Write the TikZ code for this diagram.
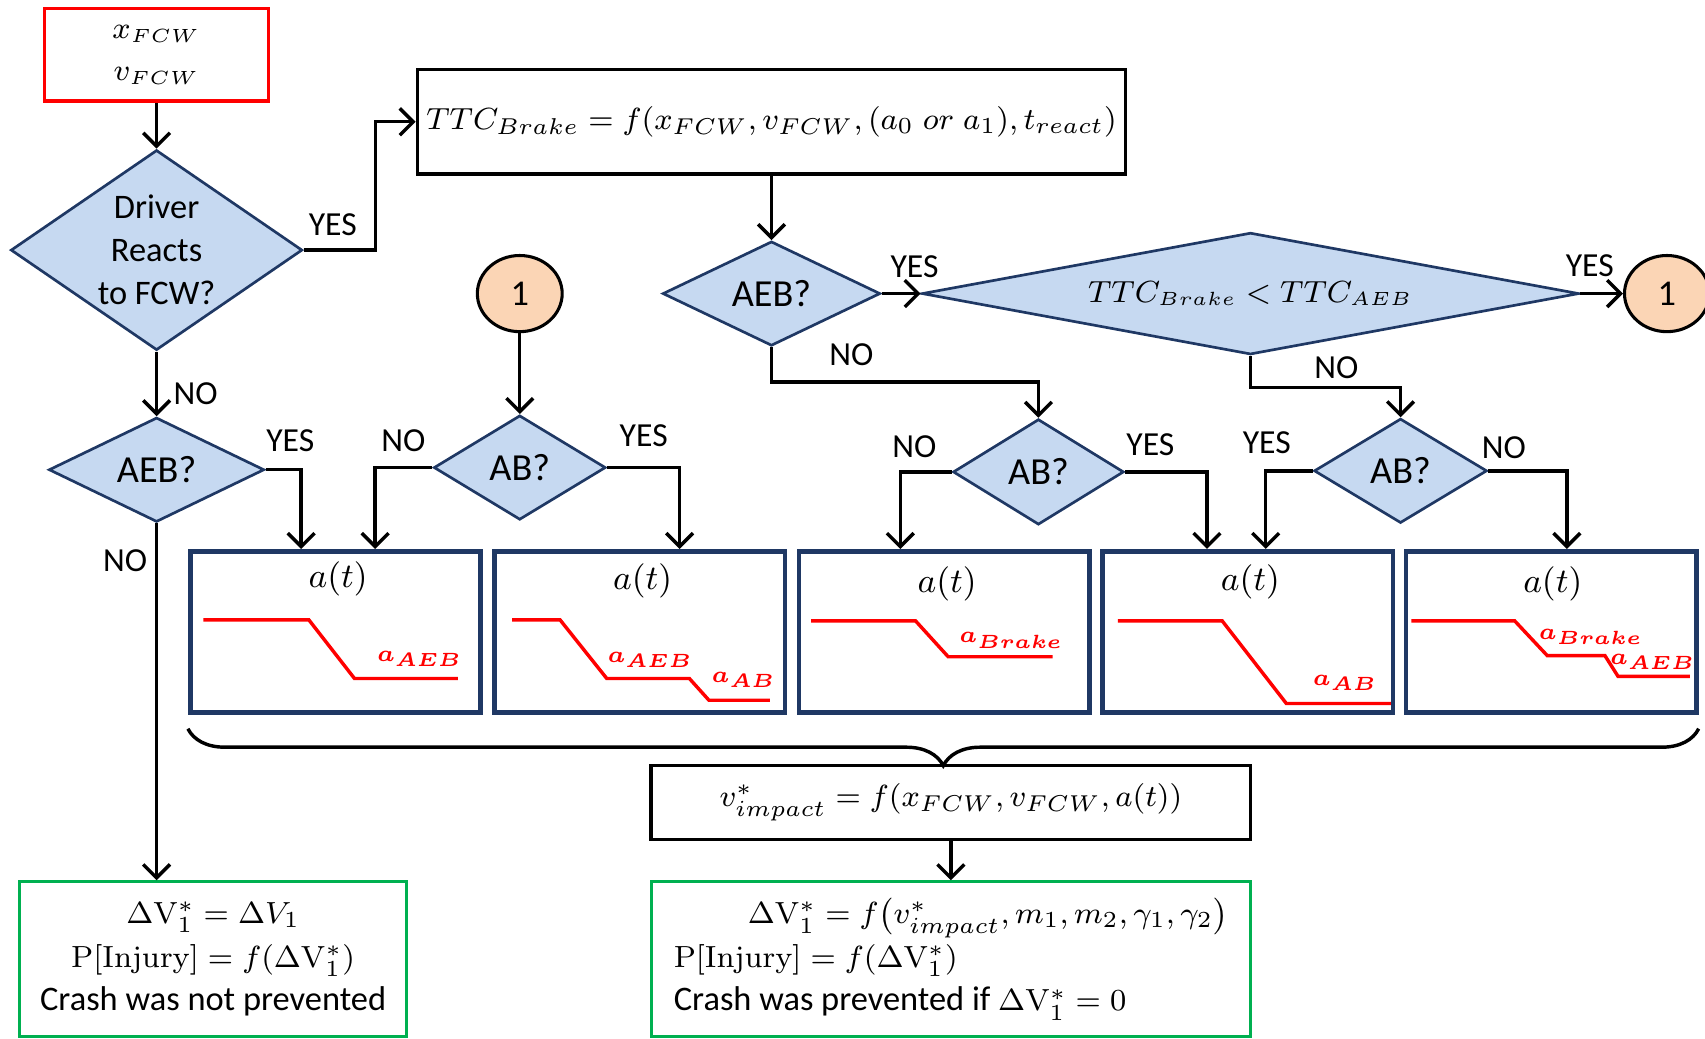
\documentclass[tikz,border=0pt]{standalone}
\usepackage[no-math]{fontspec}
\setmainfont{Carlito}
\usepackage{amsmath}
\usetikzlibrary{shapes.geometric,arrows.meta,decorations.pathreplacing}

\definecolor{decfill}{RGB}{198,217,241}
\definecolor{decline}{RGB}{31,56,100}
\definecolor{peach}{RGB}{251,213,181}
\definecolor{outgreen}{RGB}{0,176,80}

\tikzset{
    decision/.style={diamond, draw=decline, fill=decfill, line width=0.7pt, inner sep=0pt, align=center, font=\fontsize{9}{11.2}\selectfont},
    question/.style={decision, font=\fontsize{10}{12}\selectfont},
    procbox/.style={draw=black, line width=0.9pt, inner sep=0pt, font=\fontsize{8}{11}\selectfont},
    plotbox/.style={draw=decline, line width=1.2pt, minimum width=2.67cm, minimum height=1.48cm, inner sep=0pt},
    outbox/.style={draw=outgreen, line width=0.8pt, minimum height=1.42cm, inner sep=0pt, font=\fontsize{9}{11.4}\selectfont},
    connect/.style={ellipse, draw=black, fill=peach, line width=0.8pt, minimum width=0.78cm, minimum height=0.70cm, inner sep=0pt, font=\fontsize{9.5}{11}\selectfont},
    answer/.style={font=\fontsize{8.8}{10}\selectfont, inner sep=0pt},
    flow/.style={-{Straight Barb[length=3.5pt,width=7pt]}, line width=0.9pt},
    curve/.style={draw=red, line width=0.9pt},
    acclabel/.style={text=red, inner sep=0pt, font=\fontsize{6.2}{7}\selectfont\boldmath},
    tlabel/.style={inner sep=0pt, font=\fontsize{9.5}{11}\selectfont}
}
\newcommand{\mth}[1]{{\fontsize{8.5}{10.8}\selectfont$#1$}}

\begin{document}
\begin{tikzpicture}[x=0.01cm, y=-0.01cm]
    \useasboundingbox (0,0) rectangle (1568,955);

    % Inputs and first decision
    \node[procbox, draw=red, minimum width=2.06cm, minimum height=0.85cm, align=center, font=\fontsize{7.8}{10.8}\selectfont] (inp) at (144,50.5) {$x_{FCW}$\\$v_{FCW}$};
    \node[decision, minimum width=2.68cm, minimum height=1.84cm, aspect=1.46] (drv) at (144,230) {Driver\\Reacts\\to FCW?};

    % Braking time and the upper decisions
    \node[procbox, minimum width=6.51cm, minimum height=0.96cm] (ttc) at (709.5,112) {$TTC_{Brake} = f(x_{FCW}, v_{FCW}, (a_0 \; or \; a_1), t_{react})$};
    \node[question, minimum width=2cm, minimum height=0.96cm, aspect=2.08] (aeb2) at (709.5,270) {AEB?};
    \node[decision, minimum width=6.04cm, minimum height=1.12cm, aspect=5.4, font=\fontsize{7.8}{11}\selectfont] (ttcd) at (1150,270) {$TTC_{Brake} < TTC_{AEB}$};
    \node[connect] (con2) at (1533,270) {1};
    \node[connect] (con1) at (478,270) {1};

    % Lower decisions
    \node[question, minimum width=1.98cm, minimum height=0.96cm, aspect=2.06] (aeb1) at (144,432) {AEB?};
    \node[question, minimum width=1.58cm, minimum height=0.96cm, aspect=1.65] (ab1) at (478,430) {AB?};
    \node[question, minimum width=1.57cm, minimum height=0.97cm, aspect=1.62] (ab2) at (955,434) {AB?};
    \node[question, minimum width=1.59cm, minimum height=0.96cm, aspect=1.65] (ab3) at (1288,433) {AB?};

    % Deceleration profiles
    \node[plotbox] (box1) at (308.5,581) {};
    \node[plotbox] (box2) at (588.5,581) {};
    \node[plotbox] (box3) at (868.5,581) {};
    \node[plotbox] (box4) at (1147.5,581) {};
    \node[plotbox] (box5) at (1426.5,581) {};
    \node[tlabel] (at1) at (311,532) {$a(t)$};
    \node[tlabel] (at2) at (591,534) {$a(t)$};
    \node[tlabel] (at3) at (871,537) {$a(t)$};
    \node[tlabel] (at4) at (1150,535) {$a(t)$};
    \node[tlabel] (at5) at (1428,537) {$a(t)$};

    \draw[curve] (187,570) -- (284,570) -- (326,624) -- (421,624);
    \draw[curve] (471,570) -- (515,570) -- (558,624) -- (634,624) -- (652,644) -- (708,644);
    \draw[curve] (746,571) -- (842,571) -- (872,604) -- (968,604);
    \draw[curve] (1028,571) -- (1124,571) -- (1183,647) -- (1279,647);
    \draw[curve] (1298,571) -- (1393,571) -- (1423,603) -- (1476,603) -- (1488,622) -- (1554,622);

    \node[acclabel] (acc1) at (386,606) {$a_{AEB}$};
    \node[acclabel] (acc2a) at (598,607) {$a_{AEB}$};
    \node[acclabel] (acc2b) at (684,625) {$a_{AB}$};
    \node[acclabel] (acc3) at (930,589) {$a_{Brake}$};
    \node[acclabel] (acc4) at (1237,628) {$a_{AB}$};
    \node[acclabel] (acc5a) at (1463,586) {$a_{Brake}$};
    \node[acclabel] (acc5b) at (1520,609) {$a_{AEB}$};

    % Impact speed and outcomes
    \draw[decorate, decoration={brace, amplitude=0.34cm}, line width=0.9pt] ([yshift=-0.13cm]box5.south east) -- ([yshift=-0.13cm]box1.south west);
    \node[procbox, minimum width=5.51cm, minimum height=0.68cm, font=\fontsize{8.4}{11}\selectfont] (imp) at (874.5,738) {$v^*_{impact} = f(x_{FCW}, v_{FCW}, a(t))$};
    \node[outbox, minimum width=3.56cm, align=center] (out1) at (196,882) {\mth{\Delta\mathrm{V}_1^* = \Delta V_1}\\\mth{\mathrm{P[Injury]} = f(\Delta\mathrm{V}_1^*)}\\Crash was not prevented};
    \node[outbox, minimum width=5.51cm, align=left] (out2) at (874.5,882) {\hspace*{0.68cm}\mth{\Delta\mathrm{V}_1^* = f\big(v^*_{impact}, m_1, m_2, \gamma_1, \gamma_2\big)}\\\mth{\mathrm{P[Injury]} = f(\Delta\mathrm{V}_1^*)}\\Crash was prevented if \mth{\Delta\mathrm{V}_1^* = 0}};

    % Connectors
    \draw[flow] (inp) -- (drv);
    \draw[flow] (drv.east) -- ++(66,0) |- (ttc.west);
    \draw[flow] (drv) -- (aeb1);
    \draw[flow] (ttc) -- (aeb2);
    \draw[flow] (aeb2) -- (ttcd);
    \draw[flow] (ttcd) -- (con2);
    \draw[flow] (con1) -- (ab1);
    \draw[flow] (aeb1.east) -| ([xshift=-0.315cm]box1.north);
    \draw[flow] (aeb1) -- (aeb1.south |- out1.north);
    \draw[flow] (ab1.west) -| ([xshift=0.365cm]box1.north);
    \draw[flow] (ab1.east) -| ([xshift=0.365cm]box2.north);
    \draw[flow] (aeb2.south) -- ++(0,32) -| (ab2.north);
    \draw[flow] (ab2.west) -| ([xshift=-0.405cm]box3.north);
    \draw[flow] (ab2.east) -| ([xshift=-0.375cm]box4.north);
    \draw[flow] (ttcd.south) -- ++(0,29) -| (ab3.north);
    \draw[flow] (ab3.west) -| ([xshift=0.165cm]box4.north);
    \draw[flow] (ab3.east) -| ([xshift=0.145cm]box5.north);
    \draw[flow] (imp) -- (out2);

    % Labels for the answers
    \node[answer] (y1) at (306,207) {YES};
    \node[answer] (n1) at (180,362) {NO};
    \node[answer] (y2) at (267,405) {YES};
    \node[answer] (n2) at (115,516) {NO};
    \node[answer] (n3) at (371,405) {NO};
    \node[answer] (y3) at (592,401) {YES};
    \node[answer] (y4) at (841,245) {YES};
    \node[answer] (n4) at (783,326) {NO};
    \node[answer] (y5) at (1462,244) {YES};
    \node[answer] (n5) at (1229,338) {NO};
    \node[answer] (n6) at (841,411) {NO};
    \node[answer] (y6) at (1058,409) {YES};
    \node[answer] (y7) at (1165,407) {YES};
    \node[answer] (n7) at (1383,412) {NO};
\end{tikzpicture}
\end{document}
